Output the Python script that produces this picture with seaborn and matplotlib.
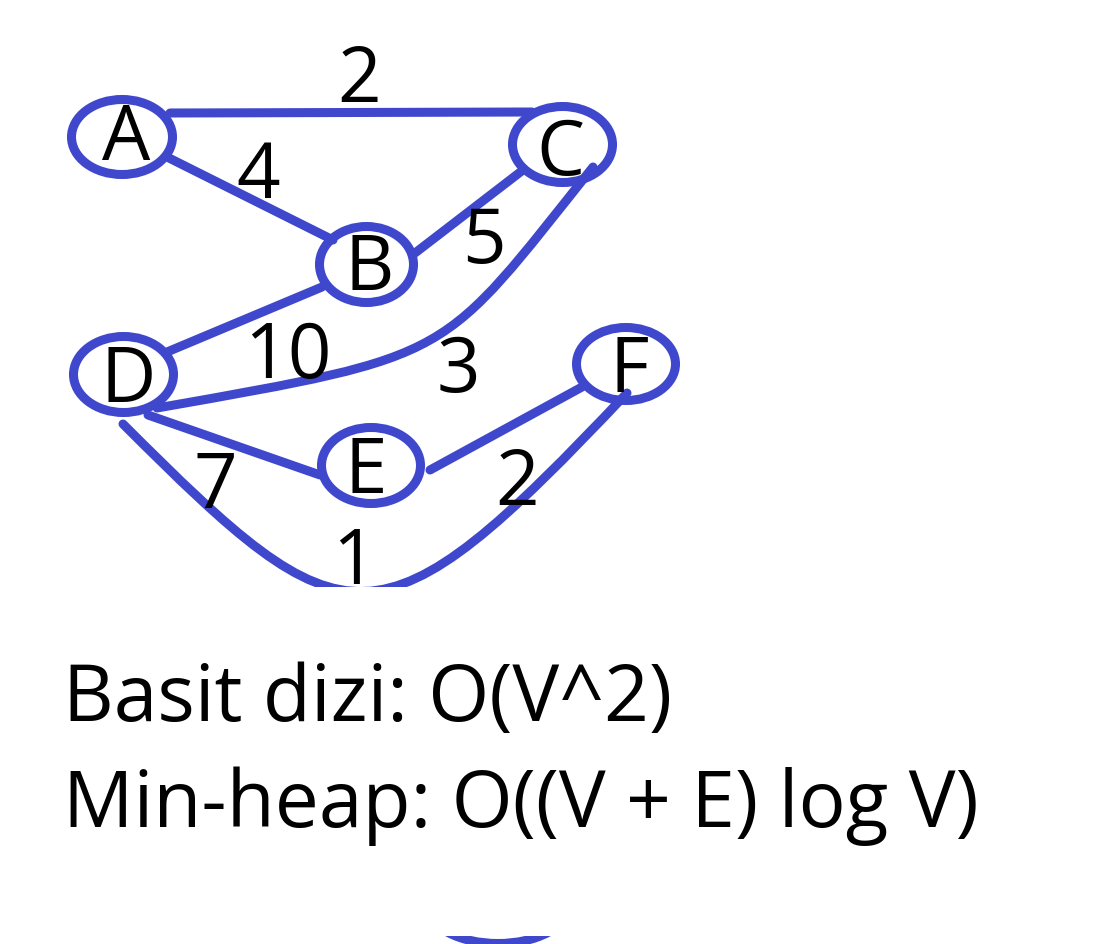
import numpy as np
import pandas as pd
import matplotlib
matplotlib.use('Agg')
import matplotlib.pyplot as plt
import seaborn as sns
from matplotlib.patches import Ellipse, PathPatch, Rectangle
from matplotlib.path import Path

sns.set_theme(style='white')
plt.rcParams['font.family'] = ['Open Sans', 'DejaVu Sans']

BLUE = '#3F48CC'
LW = 6.5  # ~9 px stroke

# ---- Graph data (pixel coords, y down) ----
node_names = ['A', 'B', 'C', 'D', 'E', 'F']
node_x = [122, 366.5, 562.5, 123.5, 371, 626]
node_y = [137, 264.5, 144.5, 374.5, 465.5, 364]
node_w = [101, 94, 100, 100, 99, 99]
node_h = [75, 76, 76, 76, 76, 73]
# label anchors (centre x, baseline y)
label_x = [126, 369.5, 560, 128, 366, 629]
label_y = [160, 290, 175, 402, 493, 392]

# straight edges: start/end points
edge_ids = ['AC', 'AB', 'BC', 'BD', 'DE', 'EF']
edge_x0 = [170, 167, 415, 322, 148, 430]
edge_y0 = [113, 157, 253, 287, 415, 470]
edge_x1 = [532, 333, 523, 167, 320, 582]
edge_y1 = [112, 240, 170, 352, 475, 387]

# curved edges: cubic bezier control points
curve_ids = ['CD', 'DF']
curve_pts = {
    'CD': [(593, 167), (439, 360), (458, 355), (157, 408)],
    'DF': [(123, 424), (346, 647), (377, 658), (627, 393)],
}

weights = ['2', '4', '5', '10', '3', '7', '2', '1']
weight_x = [359.5, 258, 484, 288, 458, 215, 517, 354]
weight_y = [102, 198, 263, 378, 392, 508, 505, 584]

lines_text = ['Basit dizi: O(V^2)', 'Min-heap: O((V + E) log V)']
lines_y = [721, 827]

fig = plt.figure(figsize=(11.19, 9.44), dpi=100)
ax = fig.add_axes([0, 0, 1, 1])
ax.set_xlim(0, 1119)
ax.set_ylim(944, 0)
ax.axis('off')

graph_clip = Rectangle((0, 0), 1119, 587, transform=ax.transData)

edges = pd.DataFrame({
    'x': edge_x0 + edge_x1,
    'y': edge_y0 + edge_y1,
    'edge': edge_ids + edge_ids,
})
sns.lineplot(data=edges, x='x', y='y', units='edge', estimator=None, sort=False,
             color=BLUE, lw=LW, ax=ax, legend=False)
for ln in ax.lines:
    ln.set_solid_capstyle('round')
    ln.set_clip_path(graph_clip)

codes = [Path.MOVETO, Path.CURVE4, Path.CURVE4, Path.CURVE4]
for cid in curve_ids:
    p = PathPatch(Path(curve_pts[cid], codes), fc='none', ec=BLUE, lw=LW, capstyle='round')
    ax.add_patch(p)
    p.set_clip_path(graph_clip)

for x, y, w, h in zip(node_x, node_y, node_w, node_h):
    e = Ellipse((x, y), w, h, fc='none', ec=BLUE, lw=LW)
    ax.add_patch(e)
    e.set_clip_path(graph_clip)

for name, x, y in zip(node_names, label_x, label_y):
    t = ax.text(x, y, name, fontsize=55, ha='center', va='baseline', color='black')
    t.set_clip_path(graph_clip)
for w, x, y in zip(weights, weight_x, weight_y):
    t = ax.text(x, y, w, fontsize=55, ha='center', va='baseline', color='black')
    t.set_clip_path(graph_clip)

for s, y in zip(lines_text, lines_y):
    ax.text(63, y, s, fontsize=56.5, ha='left', va='baseline', color='black')

# stray node peeking in at the bottom edge
bottom_clip = Rectangle((0, 936), 1119, 20, transform=ax.transData)
e = Ellipse((498, 906), 141, 75, fc='none', ec=BLUE, lw=LW)
ax.add_patch(e)
e.set_clip_path(bottom_clip)

fig.savefig('out.png', dpi=100, facecolor='white')
